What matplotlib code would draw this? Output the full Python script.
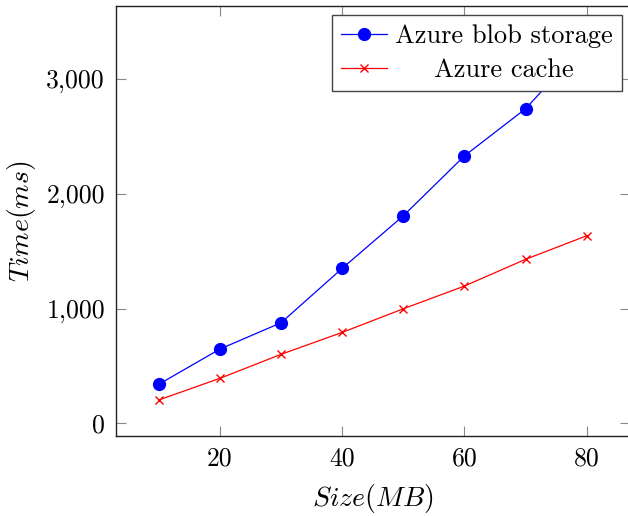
import matplotlib
matplotlib.use("Agg")
import matplotlib.pyplot as plt
from matplotlib.ticker import FuncFormatter

sizes = [10, 20, 30, 40, 50, 60, 70, 80]
blob_ms = [340, 647, 876, 1350, 1808, 2330, 2741, 3320]
cache_ms = [203, 392, 601, 792, 998, 1196, 1429, 1634]
x_ticks = [20, 40, 60, 80]
y_ticks = [0, 1000, 2000, 3000]

plt.rcParams['font.family'] = 'cmr10'
plt.rcParams['mathtext.fontset'] = 'cm'
plt.rcParams['axes.unicode_minus'] = False

fig = plt.figure(figsize=(6.28, 5.16), dpi=100)
ax = fig.add_axes([116/628, 1-436/516, (629.5-116)/628, (436-6)/516])

ax.plot(sizes, blob_ms, color='blue', lw=0.9, marker='o', ms=8.5,
        label='Azure blob storage', zorder=3)
ax.plot(sizes, cache_ms, color='red', lw=0.9, marker='x', ms=6, mew=1.0,
        label='Azure cache', zorder=3)

ax.set_xlim(3, 87)
ax.set_ylim(-110.6, 3636)
ax.set_xticks(x_ticks)
ax.set_yticks(y_ticks)
ax.yaxis.set_major_formatter(FuncFormatter(lambda v, p: f"{v:,.0f}"))
ax.tick_params(direction='in', length=7, width=0.8, color='#888888',
               top=True, right=True, labelsize=18.5, pad=8)
for s in ax.spines.values():
    s.set_linewidth(1.0)
    s.set_color('#222222')

ax.set_xlabel('$Size(MB)$', fontsize=20, labelpad=8)
ax.set_ylabel('$Time(ms)$', fontsize=20, labelpad=6)

leg = ax.legend(loc='upper right', bbox_to_anchor=(622/628, 1-15/516),
                bbox_transform=fig.transFigure, fontsize=19, fancybox=False,
                framealpha=1, edgecolor='#444444', borderpad=0.35,
                handlelength=1.75, handletextpad=0.3, labelspacing=0.4,
                borderaxespad=0)
leg.get_frame().set_linewidth(1.0)
leg.set_zorder(10)

fig.canvas.draw()
r = fig.canvas.get_renderer()
texts = leg.get_texts()
ws = [t.get_window_extent(r).width for t in texts]
W = max(ws)
for t, w in zip(texts, ws):
    t.set_x((W - w) / 2)

fig.savefig('out.png', dpi=100)
